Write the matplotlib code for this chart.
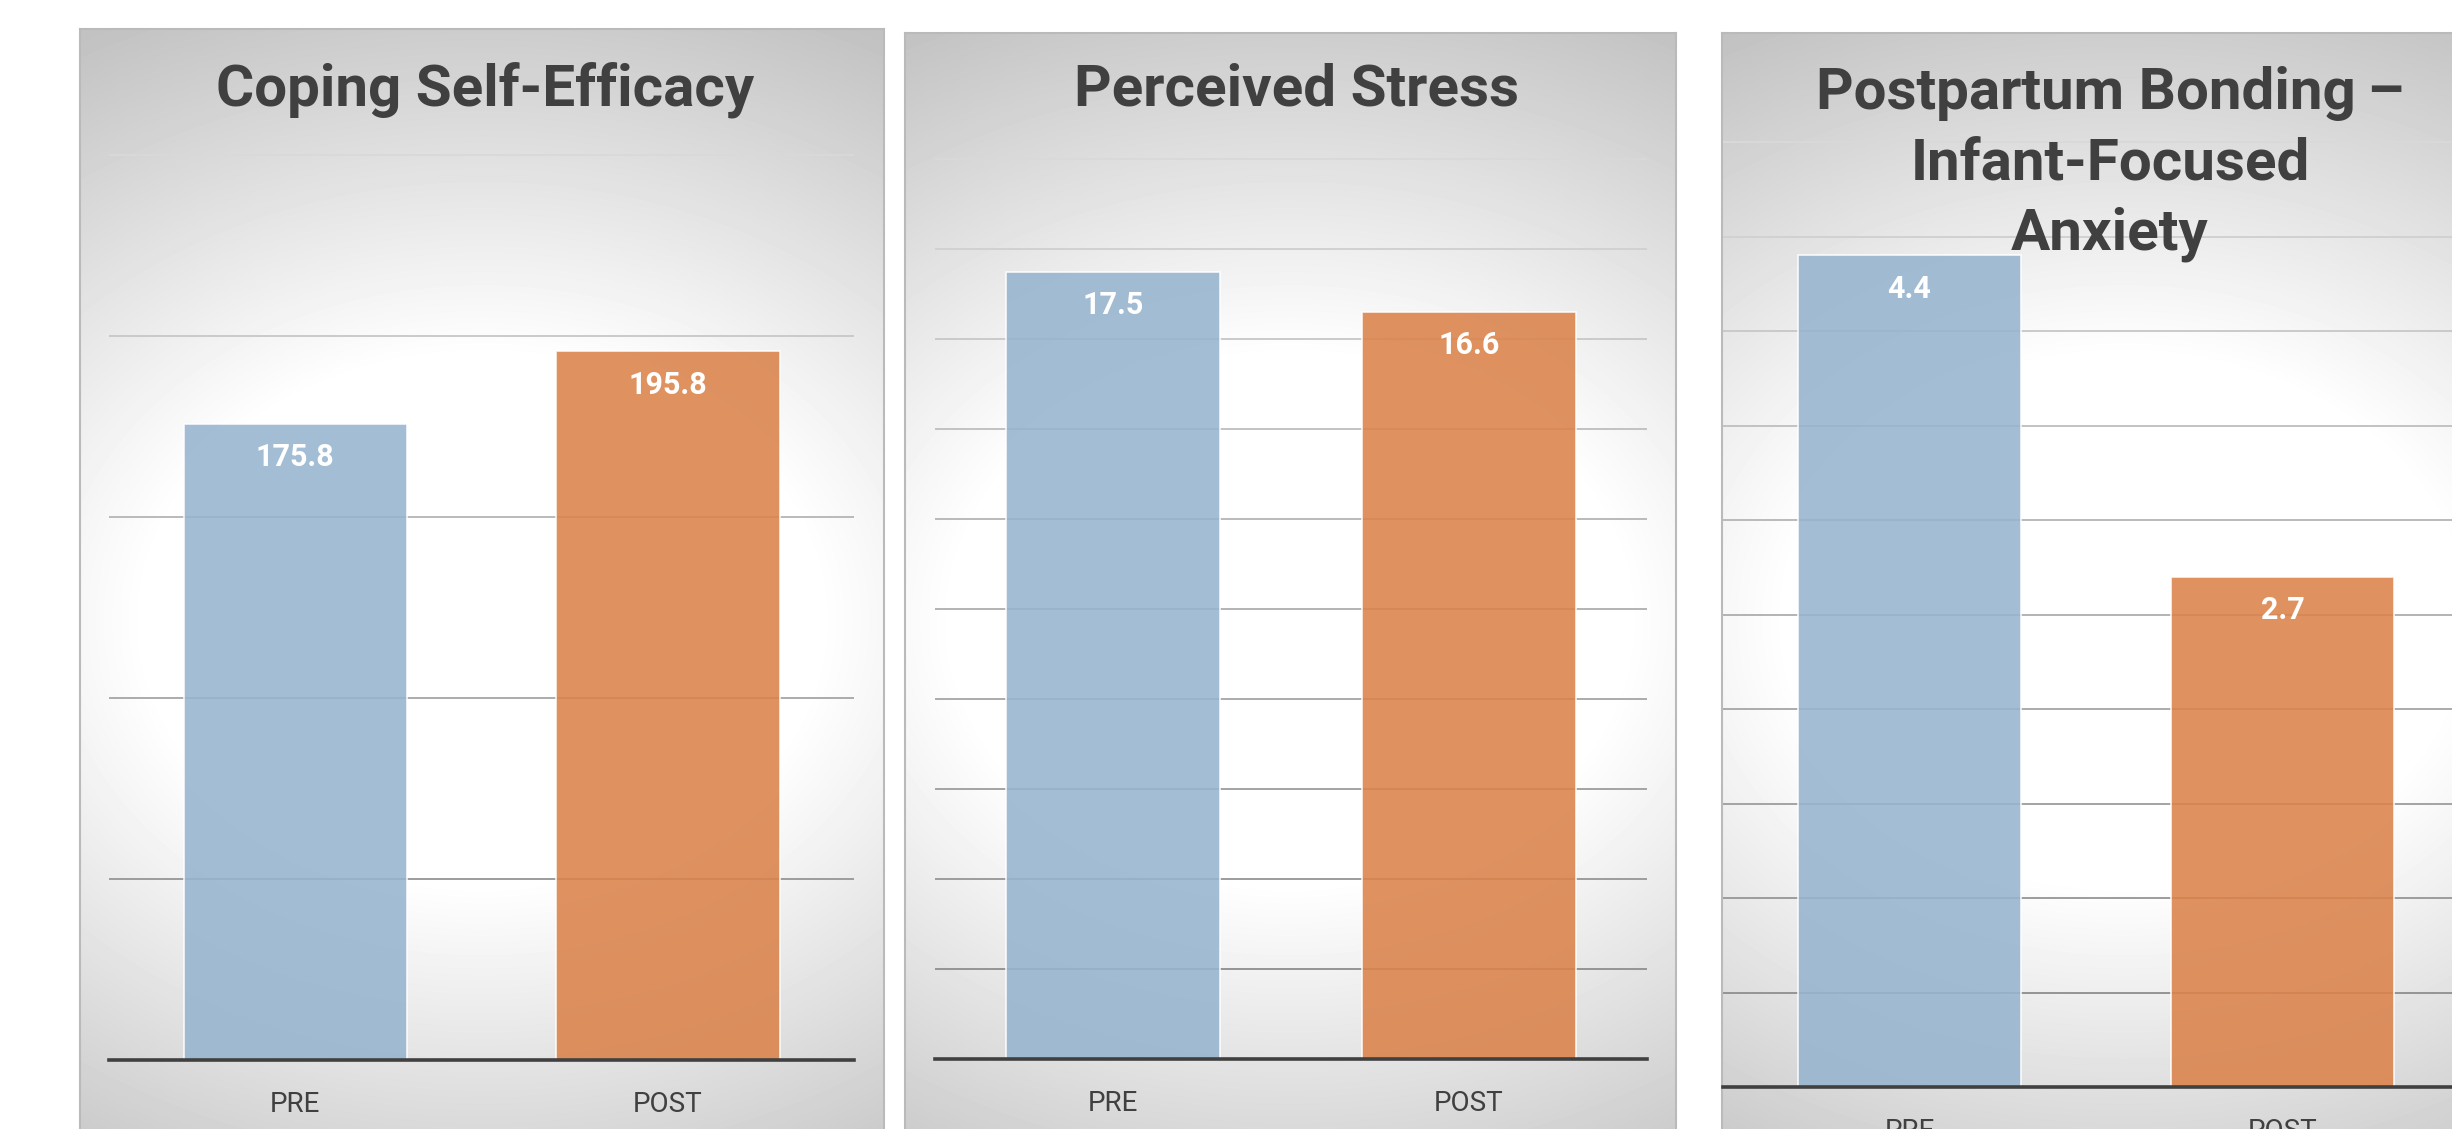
import numpy as np
import matplotlib.pyplot as plt

# data
categories = ['PRE', 'POST']
coping = [175.8, 195.8]
stress = [17.5, 16.6]
bonding = [4.4, 2.7]
titles = [['Coping Self-Efficacy'],
          ['Perceived Stress'],
          ['Postpartum Bonding\u2009\u2013', 'Infant-Focused', 'Anxiety']]
y_max = [250, 20, 5]
y_step = [50, 2, 0.5]

# layout in pixels of the 2452x1129 image
W, H = 2452, 1129
frames = [(80, 29, 884, 1400), (905, 33, 1676, 1400), (1722, 33, 2526, 1400)]
plots = [(109, 155, 854, 1060), (935, 159, 1647, 1059), (1723, 142, 2469, 1087)]
glow = [(482, 620), (1290, 620), (2124, 620)]
title_x = [485, 1296, 2110]
title_y = [105, 106, 109]

font = ['Roboto', 'DejaVu Sans']
dark = '#404040'
bar_colors = ['#96b4cf', '#db834a']


def px_rect(x0, y0, x1, y1):
    return [x0 / W, 1 - y1 / H, (x1 - x0) / W, (y1 - y0) / H]


fig = plt.figure(figsize=(W / 100, H / 100), dpi=100)

series = [coping, stress, bonding]
for i in range(3):
    # panel background with a soft radial glow
    x0, y0, x1, y1 = frames[i]
    bg = fig.add_axes(px_rect(x0, y0, x1, y1))
    xs = np.linspace(x0, x1, 200)
    ys = np.linspace(y0, y1, 300)
    X, Y = np.meshgrid(xs, ys)
    cx, cy = glow[i]
    r = np.sqrt(((X - cx) / 677) ** 2 + ((Y - cy) / 530) ** 2)
    g = np.clip(1 - 0.32 * np.clip(r - 0.5, 0, None), 0.76, 1)
    bg.imshow(g, cmap='gray', vmin=0, vmax=1, extent=[0, 1, 0, 1],
              aspect='auto', interpolation='bilinear')
    bg.set_xticks([])
    bg.set_yticks([])
    for s in bg.spines.values():
        s.set_color('#bababa')
        s.set_linewidth(1.5)

    # plot area
    ax = fig.add_axes(px_rect(*plots[i]))
    ax.patch.set_alpha(0)
    ax.set_xlim(-0.5, 1.5)
    ax.set_ylim(0, y_max[i])

    ticks = np.arange(y_step[i], y_max[i] + y_step[i] / 2, y_step[i])
    grid_colors = [plt.cm.gray(0.55 + 0.30 * t / y_max[i]) for t in ticks]
    ax.hlines(ticks, -0.5, 1.5, colors=grid_colors, linewidth=1.4,
              clip_on=False, zorder=1)

    vals = series[i]
    bars = ax.bar(range(2), vals, width=0.6, color=bar_colors, alpha=0.88,
                  edgecolor=(1, 1, 1, 0.7), linewidth=1.2, zorder=2)
    for b, v in zip(bars, vals):
        ax.annotate(f'{v:.1f}', (b.get_x() + b.get_width() / 2, v),
                    xytext=(0, -24), textcoords='offset points',
                    ha='center', va='center', color='white',
                    fontsize=22, fontweight='bold', family=font, zorder=4)

    ax.axhline(0, color=dark, linewidth=2.6, zorder=3, clip_on=False)
    for s in ax.spines.values():
        s.set_visible(False)
    ax.set_yticks([])
    ax.set_xticks(range(2))
    ax.set_xticklabels(categories, fontsize=20, color=dark, family=font)
    ax.tick_params(axis='x', length=0, pad=22)

    # title
    for k, line in enumerate(titles[i]):
        fig.text(title_x[i] / W, 1 - (title_y[i] + 70 * k) / H, line,
                 ha='center', va='baseline', fontsize=42, fontweight='bold',
                 color=dark, family=font, zorder=5)

fig.savefig('out.png', dpi=100)
